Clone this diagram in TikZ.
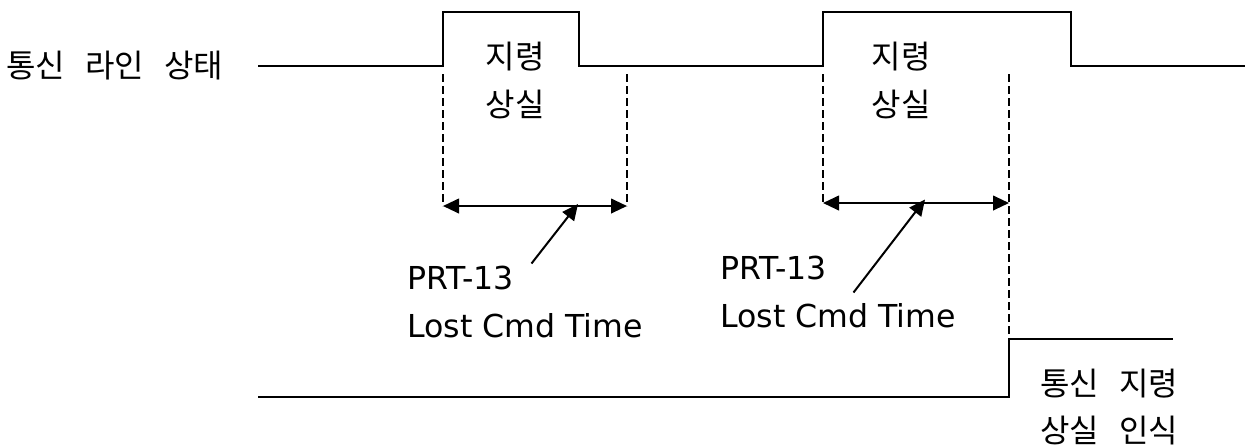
\documentclass[tikz,border=0pt]{standalone}
\usepackage{fontspec}
\setmainfont{DejaVu Sans}
\newfontfamily\kr{Noto Sans CJK KR}
\usetikzlibrary{arrows.meta}
\newcommand{\wsp}{\hspace{15pt}}
\begin{document}
\begin{tikzpicture}[x=0.75pt,y=-0.75pt,
  sig/.style={line width=1.5pt},
  guide/.style={line width=1.4pt,dash pattern=on 6pt off 3pt},
  span/.style={line width=1.5pt,{Triangle[length=12pt,width=11pt]}-{Triangle[length=12pt,width=11pt]}},
  ptr/.style={line width=1.5pt,-{Triangle[length=12pt,width=11pt]}},
  kt/.style={font=\kr\fontsize{24}{28}\selectfont,inner sep=0pt,anchor=base},
  ktw/.style={font=\kr\fontsize{24}{28}\selectfont,inner sep=0pt,anchor=base west},
  lt/.style={font=\fontsize{23.7}{28}\selectfont,inner sep=0pt,anchor=base west}]
\useasboundingbox (0,0) rectangle (1245,444);
% signal: communication line state
\draw[sig] (258,66) -- (443,66) -- (443,12) -- (579,12) -- (579,66) -- (823,66) -- (823,12) -- (1071,12) -- (1071,66) -- (1245,66);
% signal: lost command detection
\draw[sig] (258,397) -- (1009,397) -- (1009,339) -- (1173,339);
% guides
\draw[guide] (443,74) -- (443,206);
\draw[guide] (627,74) -- (627,206);
\draw[guide] (823,74) -- (823,203);
\draw[guide] (1009,74) -- (1009,397);
% spans
\coordinate (a1) at (443,206); \coordinate (b1) at (627,206);
\coordinate (a2) at (823,203); \coordinate (b2) at (1009,203);
\draw[span] (a1) -- (b1);
\draw[span] (a2) -- (b2);
% labels
\node[ktw] (state) at (6,77) {통신\wsp 라인\wsp 상태};
\node[kt] (c1a) at (515,68) {지령};
\node[kt] (c1b) at (515,116) {상실};
\node[kt] (c2a) at (901,68) {지령};
\node[kt] (c2b) at (901,116) {상실};
\node[lt] (p1) at (407,289) {PRT-13};
\node[lt] (l1) at (407,337) {Lost Cmd Time};
\node[lt] (p2) at (720,279) {PRT-13};
\node[lt] (l2) at (720,327) {Lost Cmd Time};
\node[ktw] (d1) at (1040,395) {통신\wsp 지령};
\node[ktw] (d2) at (1040,442) {상실\wsp 인식};
% pointers
\coordinate (s1) at (531.5,263.5); \coordinate (t1) at (578,204);
\coordinate (s2) at (853.5,292.5); \coordinate (t2) at (925,199.5);
\draw[ptr] (s1) -- (t1);
\draw[ptr] (s2) -- (t2);
\end{tikzpicture}
\end{document}
